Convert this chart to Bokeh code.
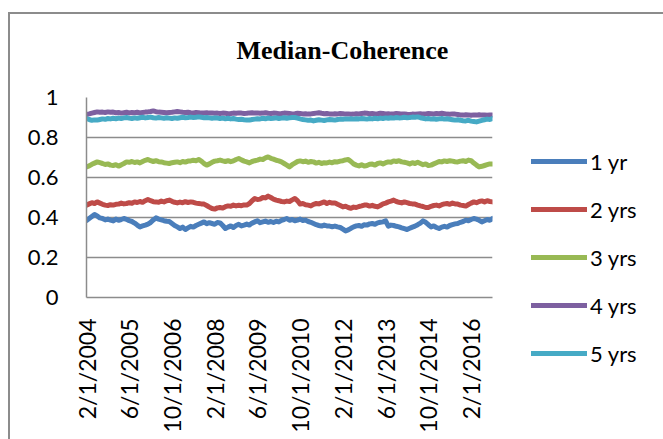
from bokeh.plotting import figure
from bokeh.layouts import row
from bokeh.models import Range1d, FixedTicker, Legend, LegendItem, Title
from bokeh.embed import file_html
from bokeh.resources import INLINE

# ---------------- data ----------------
title_text = "Median-Coherence"
series_names = ["1 yr", "2 yrs", "3 yrs", "4 yrs", "5 yrs"]
series_colors = ["#4A7EBB", "#BE4B48", "#98B954", "#7D60A0", "#46AAC5"]

# monthly observations, Feb 2004 .. Oct 2016
months = []
y_, m_ = 2004, 2
while (y_, m_) <= (2016, 10):
    months.append(f"{m_}/1/{y_}")
    m_ += 1
    if m_ > 12:
        m_, y_ = 1, y_ + 1
label_step = 16

yr1 = [0.385, 0.395, 0.405, 0.415, 0.408, 0.398, 0.395, 0.388, 0.392, 0.387,
       0.383, 0.392, 0.386, 0.390, 0.395, 0.391, 0.384, 0.380, 0.372, 0.362,
       0.353, 0.358, 0.362, 0.367, 0.375, 0.388, 0.398, 0.392, 0.388, 0.384,
       0.381, 0.380, 0.370, 0.360, 0.353, 0.345, 0.352, 0.340, 0.348, 0.356,
       0.352, 0.360, 0.366, 0.372, 0.378, 0.369, 0.374, 0.370, 0.366, 0.375,
       0.373, 0.360, 0.345, 0.352, 0.358, 0.350, 0.360, 0.366, 0.358, 0.362,
       0.367, 0.362, 0.372, 0.378, 0.384, 0.374, 0.378, 0.382, 0.376, 0.380,
       0.375, 0.381, 0.378, 0.386, 0.390, 0.395, 0.386, 0.390, 0.384, 0.387,
       0.392, 0.385, 0.387, 0.380, 0.376, 0.370, 0.364, 0.360, 0.357, 0.362,
       0.358, 0.357, 0.354, 0.357, 0.353, 0.350, 0.342, 0.333, 0.338, 0.346,
       0.353, 0.358, 0.360, 0.356, 0.364, 0.362, 0.368, 0.370, 0.366, 0.373,
       0.376, 0.378, 0.383, 0.357, 0.362, 0.360, 0.356, 0.353, 0.348, 0.344,
       0.340, 0.346, 0.352, 0.357, 0.364, 0.372, 0.383, 0.376, 0.364, 0.353,
       0.358, 0.350, 0.345, 0.352, 0.356, 0.352, 0.360, 0.364, 0.368, 0.370,
       0.376, 0.380, 0.387, 0.384, 0.390, 0.395, 0.392, 0.386, 0.378, 0.384,
       0.390, 0.386, 0.395]

yr2 = [0.462, 0.468, 0.474, 0.470, 0.478, 0.472, 0.466, 0.462, 0.460, 0.464,
       0.462, 0.466, 0.467, 0.472, 0.468, 0.470, 0.474, 0.471, 0.478, 0.475,
       0.480, 0.476, 0.484, 0.490, 0.484, 0.479, 0.478, 0.476, 0.482, 0.478,
       0.484, 0.487, 0.481, 0.476, 0.473, 0.477, 0.474, 0.479, 0.475, 0.478,
       0.476, 0.472, 0.470, 0.468, 0.467, 0.460, 0.452, 0.445, 0.442, 0.448,
       0.450, 0.447, 0.454, 0.458, 0.456, 0.462, 0.458, 0.461, 0.459, 0.463,
       0.462, 0.470, 0.484, 0.495, 0.490, 0.492, 0.500, 0.498, 0.507, 0.500,
       0.492, 0.487, 0.484, 0.480, 0.478, 0.482, 0.480, 0.488, 0.495, 0.484,
       0.467, 0.470, 0.464, 0.462, 0.458, 0.466, 0.470, 0.468, 0.473, 0.478,
       0.470, 0.476, 0.472, 0.473, 0.466, 0.460, 0.453, 0.456, 0.450, 0.446,
       0.452, 0.450, 0.455, 0.458, 0.462, 0.462, 0.457, 0.461, 0.456, 0.453,
       0.460, 0.468, 0.472, 0.478, 0.482, 0.487, 0.480, 0.476, 0.473, 0.478,
       0.474, 0.470, 0.468, 0.467, 0.462, 0.458, 0.455, 0.450, 0.450, 0.456,
       0.460, 0.462, 0.458, 0.464, 0.468, 0.470, 0.466, 0.472, 0.468, 0.467,
       0.462, 0.460, 0.457, 0.465, 0.472, 0.478, 0.474, 0.480, 0.483, 0.478,
       0.484, 0.480, 0.478]

yr3 = [0.653, 0.658, 0.666, 0.672, 0.678, 0.674, 0.670, 0.665, 0.668, 0.662,
       0.660, 0.664, 0.657, 0.663, 0.670, 0.678, 0.676, 0.680, 0.675, 0.678,
       0.673, 0.680, 0.686, 0.690, 0.684, 0.680, 0.684, 0.679, 0.678, 0.674,
       0.672, 0.670, 0.674, 0.676, 0.678, 0.674, 0.680, 0.677, 0.682, 0.683,
       0.686, 0.684, 0.690, 0.682, 0.670, 0.662, 0.668, 0.676, 0.682, 0.684,
       0.687, 0.683, 0.680, 0.684, 0.679, 0.683, 0.690, 0.695, 0.688, 0.682,
       0.678, 0.673, 0.680, 0.684, 0.687, 0.692, 0.690, 0.698, 0.703, 0.696,
       0.692, 0.686, 0.683, 0.678, 0.670, 0.662, 0.653, 0.664, 0.672, 0.680,
       0.683, 0.679, 0.682, 0.676, 0.680, 0.678, 0.672, 0.676, 0.670, 0.674,
       0.673, 0.677, 0.674, 0.679, 0.678, 0.682, 0.684, 0.688, 0.690, 0.680,
       0.668, 0.662, 0.658, 0.664, 0.657, 0.660, 0.666, 0.667, 0.662, 0.670,
       0.673, 0.668, 0.674, 0.678, 0.676, 0.683, 0.680, 0.684, 0.678, 0.676,
       0.673, 0.668, 0.674, 0.670, 0.676, 0.670, 0.664, 0.668, 0.660, 0.662,
       0.668, 0.674, 0.680, 0.678, 0.683, 0.680, 0.684, 0.682, 0.679, 0.678,
       0.682, 0.684, 0.680, 0.687, 0.684, 0.672, 0.662, 0.653, 0.656, 0.660,
       0.664, 0.668, 0.667]

yr4 = [0.915, 0.918, 0.922, 0.925, 0.928, 0.926, 0.927, 0.925, 0.928, 0.926,
       0.927, 0.924, 0.925, 0.922, 0.924, 0.926, 0.923, 0.925, 0.924, 0.926,
       0.923, 0.925, 0.927, 0.928, 0.930, 0.933, 0.929, 0.927, 0.926, 0.925,
       0.924, 0.925, 0.926, 0.928, 0.930, 0.928, 0.926, 0.925, 0.926, 0.924,
       0.923, 0.925, 0.924, 0.922, 0.923, 0.924, 0.922, 0.923, 0.921, 0.922,
       0.920, 0.922, 0.921, 0.919, 0.920, 0.922, 0.921, 0.923, 0.922, 0.920,
       0.921, 0.923, 0.924, 0.922, 0.923, 0.921, 0.922, 0.924, 0.921, 0.920,
       0.922, 0.921, 0.919, 0.920, 0.922, 0.921, 0.920, 0.918, 0.919, 0.921,
       0.920, 0.918, 0.919, 0.917, 0.918, 0.920, 0.922, 0.924, 0.921, 0.919,
       0.920, 0.918, 0.917, 0.919, 0.918, 0.920, 0.919, 0.917, 0.918, 0.916,
       0.917, 0.919, 0.918, 0.920, 0.922, 0.921, 0.919, 0.920, 0.918, 0.919,
       0.921, 0.920, 0.918, 0.919, 0.917, 0.918, 0.920, 0.919, 0.917, 0.918,
       0.916, 0.915, 0.917, 0.916, 0.918, 0.919, 0.917, 0.918, 0.920, 0.919,
       0.918, 0.920, 0.919, 0.921, 0.919, 0.917, 0.916, 0.918, 0.917, 0.915,
       0.913, 0.912, 0.914, 0.913, 0.911, 0.913, 0.912, 0.914, 0.912, 0.913,
       0.911, 0.913, 0.912]

yr5 = [0.895, 0.890, 0.886, 0.888, 0.887, 0.890, 0.893, 0.891, 0.895, 0.893,
       0.896, 0.894, 0.897, 0.895, 0.898, 0.900, 0.897, 0.895, 0.898, 0.896,
       0.899, 0.901, 0.898, 0.900, 0.902, 0.899, 0.897, 0.900, 0.898, 0.896,
       0.899, 0.897, 0.895, 0.898, 0.896, 0.899, 0.901, 0.899, 0.900, 0.902,
       0.900, 0.901, 0.903, 0.901, 0.899, 0.900, 0.898, 0.896, 0.898, 0.897,
       0.895, 0.897, 0.894, 0.896, 0.893, 0.895, 0.892, 0.890, 0.891, 0.889,
       0.888, 0.887, 0.890, 0.892, 0.894, 0.893, 0.896, 0.894, 0.897, 0.895,
       0.896, 0.898, 0.895, 0.897, 0.899, 0.896, 0.898, 0.900, 0.900, 0.897,
       0.893, 0.890, 0.888, 0.886, 0.887, 0.883, 0.886, 0.889, 0.887, 0.885,
       0.888, 0.890, 0.889, 0.887, 0.890, 0.892, 0.891, 0.893, 0.892, 0.894,
       0.892, 0.894, 0.893, 0.895, 0.894, 0.892, 0.895, 0.893, 0.896, 0.894,
       0.897, 0.895, 0.898, 0.896, 0.899, 0.897, 0.900, 0.898, 0.899, 0.901,
       0.899, 0.900, 0.902, 0.901, 0.903, 0.899, 0.896, 0.893, 0.895, 0.892,
       0.894, 0.891, 0.893, 0.895, 0.892, 0.894, 0.891, 0.889, 0.887, 0.889,
       0.886, 0.884, 0.883, 0.886, 0.882, 0.880, 0.878, 0.882, 0.886, 0.889,
       0.892, 0.890, 0.895]

y_ticks = [0, 0.2, 0.4, 0.6, 0.8, 1]
y_tick_labels = ["0", "0.2", "0.4", "0.6", "0.8", "1"]

# ---------------- main figure ----------------
n = len(months)
xs = list(range(n))
series = [yr1, yr2, yr3, yr4, yr5]

GRID = "#8C8C8C"
TICK_FONT = "Lato"
LINE_W = 5

p = figure(width=508, height=439, output_backend="svg", toolbar_location=None,
           x_range=Range1d(0, n - 1), y_range=Range1d(0, 1),
           min_border_left=86, min_border_right=16,
           min_border_top=97, min_border_bottom=142)
p.background_fill_color = "white"
p.border_fill_alpha = 0
p.outline_line_color = None
# outer chart-area box: only its top and left edges fall inside the picture
p.styles = {"box-shadow": "inset 8px 12px 0 0 white, inset 10px 14px 0 0 #8C8C8C"}

p.yaxis.ticker = FixedTicker(ticks=y_ticks)
p.yaxis.major_label_overrides = {t: s for t, s in zip(y_ticks, y_tick_labels)}
p.yaxis.major_label_text_font = TICK_FONT
p.yaxis.major_label_text_font_size = "22px"
p.yaxis.major_label_text_color = "black"
p.yaxis.major_label_standoff = 22
p.yaxis.major_tick_line_color = None
p.yaxis.minor_tick_line_color = None
p.yaxis.axis_line_color = GRID
p.yaxis.axis_line_width = 1.5

tick_idx = list(range(0, n, label_step))
p.xaxis.ticker = FixedTicker(ticks=tick_idx)
p.xaxis.major_label_overrides = {i: months[i] for i in tick_idx}
p.xaxis.major_label_orientation = 3.14159265 / 2
p.xaxis.major_label_text_font = TICK_FONT
p.xaxis.major_label_text_font_size = "23px"
p.xaxis.major_label_text_color = "black"
p.xaxis.major_label_standoff = 15
p.xaxis.major_tick_line_color = None
p.xaxis.minor_tick_line_color = None
p.xaxis.axis_line_color = GRID
p.xaxis.axis_line_width = 1.5

p.xgrid.grid_line_color = None
p.ygrid.grid_line_color = GRID
p.ygrid.grid_line_width = 1.5

for vals, col in zip(series, series_colors):
    p.line(xs, vals, line_color=col, line_width=LINE_W,
           line_join="round", line_cap="round")

p.title = Title(text=title_text, text_font="Liberation Serif",
                text_font_style="bold", text_font_size="26px",
                text_color="black", align="left", offset=150, standoff=65)

# ---------------- legend panel (same series, drawn off-range) ----------------
q = figure(width=155, height=439, output_backend="svg", toolbar_location=None,
           x_range=Range1d(1000, 1001), y_range=Range1d(0, 1),
           x_axis_type=None, y_axis_type=None,
           min_border=0, min_border_left=0, min_border_right=0,
           min_border_top=0, min_border_bottom=0)
q.background_fill_alpha = 0
q.border_fill_alpha = 0
q.outline_line_color = None
q.xgrid.grid_line_color = None
q.ygrid.grid_line_color = None
q.styles = {"box-shadow": "inset 0px 12px 0 0 white, inset 0px 14px 0 0 #8C8C8C"}

items = []
for name, vals, col in zip(series_names, series, series_colors):
    r = q.line(xs, vals, line_color=col, line_width=LINE_W,
               line_join="round", line_cap="round")
    items.append(LegendItem(label=name, renderers=[r]))

# side panels are not clipped to the frame, so the legend sits in q's left panel;
# a blank title supplies the extra top offset
legend = Legend(items=items, location="top_left", orientation="vertical",
                glyph_width=56, glyph_height=48, label_height=48,
                spacing=0, padding=0, margin=23, label_standoff=3,
                title=" ", title_text_font_size="2px", title_standoff=15,
                label_text_font=TICK_FONT, label_text_font_size="22px",
                label_text_color="black", label_text_baseline="middle",
                border_line_color=None, background_fill_alpha=0)
q.add_layout(legend, "left")

layout = row(p, q, spacing=0)
open("out.html", "w").write(file_html(layout, INLINE))
